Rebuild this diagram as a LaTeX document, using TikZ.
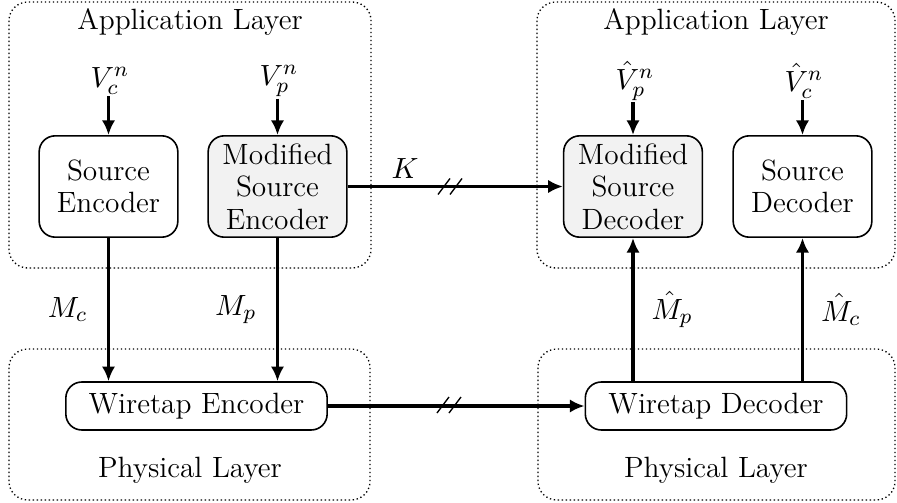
\documentclass[tikz,border=0pt]{standalone}
\usetikzlibrary{arrows.meta}
\begin{document}
\begin{tikzpicture}[x=0.375pt,y=-0.375pt,
  every node/.style={font=\fontsize{11}{12.2}\selectfont},
  layer/.style={draw,densely dotted,line width=0.5pt,rounded corners=7pt},
  block/.style={draw,line width=0.6pt,rounded corners=6pt,align=center,
    minimum width=52pt,minimum height=38pt,inner sep=1pt},
  modblock/.style={block,fill=gray!10},
  wire/.style={draw,line width=0.6pt,rounded corners=6pt,
    minimum width=98pt,minimum height=18pt,inner sep=1pt},
  lbl/.style={inner sep=0.5pt},
  arr/.style={line width=1.25pt,-{Latex[length=5.5pt,width=5pt]}},
  slash/.style={line width=0.5pt}]
\useasboundingbox (0,0) rectangle (897,503);

% layer frames
\draw[layer] (9,2) rectangle (371,268);
\draw[layer] (537,2) rectangle (895,268);
\draw[layer] (9,349) rectangle (370,500);
\draw[layer] (538,349) rectangle (895,500);
\node (appL) at (190,22) {Application Layer};
\node (appR) at (716,22) {Application Layer};
\node (phyL) at (190,470) {Physical Layer};
\node (phyR) at (716,470) {Physical Layer};

% application layer blocks
\node[block] (se) at (108.5,186.5) {Source\\Encoder};
\node[modblock] (mse) at (277.5,186.5) {Modified\\Source\\Encoder};
\node[modblock] (msd) at (633,186.5) {Modified\\Source\\Decoder};
\node[block] (sd) at (802.5,186.5) {Source\\Decoder};

% physical layer blocks
\node[wire] (we) at (196.5,406) {Wiretap Encoder};
\node[wire] (wd) at (716,406) {Wiretap Decoder};

% sources and sinks
\node[lbl] (vc) at (110,81) {$V_c^n$};
\node[lbl] (vp) at (279,81) {$V_p^n$};
\node[lbl] (vph) at (635,81) {$\hat{V}_p^n$};
\node[lbl] (vch) at (804,81) {$\hat{V}_c^n$};

\draw[arr] (se.north |- vc.south) -- (se);
\draw[arr] (mse.north |- vp.south) -- (mse);
\draw[arr] (msd.north |- vph.south) -- (msd);
\draw[arr] (sd.north |- vch.south) -- (sd);

% message links
\draw[arr] (se.south) -- node[left,xshift=-4pt] {$M_c$} (se.south |- we.north);
\draw[arr] (mse.south) -- node[left,xshift=-4pt] {$M_p$} (mse.south |- we.north);
\draw[arr] (msd.south |- wd.north) -- node[right,xshift=3pt] {$\hat{M}_p$} (msd.south);
\draw[arr] (sd.south |- wd.north) -- node[right,xshift=3pt] {$\hat{M}_c$} (sd.south);

% key link and channel
\draw[arr] (mse.east) -- (msd.west);
\node (k) at (405,169) {$K$};
\draw[arr] (we.east) -- (wd.west);

% vector-link markers
\coordinate (ks) at (452,186.5);
\coordinate (cs) at (451,405);
\foreach \c in {ks,cs} {
  \draw[slash] ([shift={(-14,8)}]\c) -- ([shift={(-2,-8)}]\c);
  \draw[slash] ([shift={(-2,8)}]\c) -- ([shift={(10,-8)}]\c);
}
\end{tikzpicture}
\end{document}
